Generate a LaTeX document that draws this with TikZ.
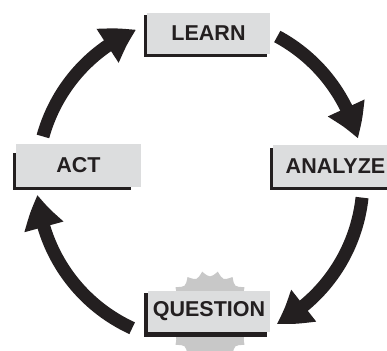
\documentclass[tikz,border=0pt]{standalone}
\usepackage{fontspec}
\setmainfont{Liberation Sans}
\usetikzlibrary{arrows.meta,bending,calc,backgrounds}
\definecolor{ink}{HTML}{231F20}
\definecolor{boxgray}{HTML}{DCDDDE}
\definecolor{burstgray}{HTML}{C8C8C8}
\begin{document}
\begin{tikzpicture}[x=1pt,y=1pt,
  box/.style={fill=boxgray, inner sep=0pt, font=\bfseries\fontsize{21.5}{25}\selectfont, text=ink},
  shade/.style={fill=ink},
  cyclearrow/.style={draw=ink, line width=13pt, -{Triangle[width=38pt,length=33pt,bend]}}
]
\useasboundingbox (0,0) rectangle (387,350);
\clip (0,0) rectangle (387,350);

% boxes
\node[box, minimum width=123pt, minimum height=41pt] (learn) at (208.5,316.5) {LEARN};
\node[box, minimum width=125pt, minimum height=42pt] (analyze) at (335.5,184) {ANALYZE};
\node[box, minimum width=125pt, minimum height=43pt] (act) at (78.5,184.5) {ACT};
\node[box, minimum width=122pt, minimum height=41pt] (question) at (209,38.5) {QUESTION};

\begin{scope}[on background layer]
  % starburst behind QUESTION
  \fill[burstgray, shift={(210,34)}] (80:45)
    \foreach \i in {0,...,17} { .. controls ({90+\i*20}:38) .. ({100+\i*20}:45) } -- cycle;
  % shadows
  \fill[shade] ($(learn.south west)+(-3,-3)$) rectangle ($(learn.north east)+(-3,-2)$);
  \fill[shade] ($(analyze.south west)+(-3,-3)$) rectangle ($(analyze.north east)+(-3,-3)$);
  \fill[shade] ($(act.south west)+(-3,-3)$) rectangle ($(act.north east)+(-10,-9)$);
  \fill[shade] ($(question.south west)+(-4,-5)$) rectangle ($(question.north east)+(-3,-2)$);
\end{scope}

% cycle arrows
\coordinate (c) at (200,170);
\coordinate (a1) at ($(c)+(164.5:163)$);
\coordinate (a2) at ($(c)+(61.7:163)$);
\coordinate (a3) at ($(c)+(-6.2:163)$);
\coordinate (a4) at ($(c)+(-114.6:163)$);
\draw[cyclearrow] (a1) arc[start angle=164.5, end angle=113, radius=163];
\draw[cyclearrow] (a2) arc[start angle=61.7, end angle=14.7, radius=163];
\draw[cyclearrow] (a3) arc[start angle=-6.2, end angle=-62, radius=163];
\draw[cyclearrow] (a4) arc[start angle=-114.6, end angle=-174.8, radius=163];
\end{tikzpicture}
\end{document}
